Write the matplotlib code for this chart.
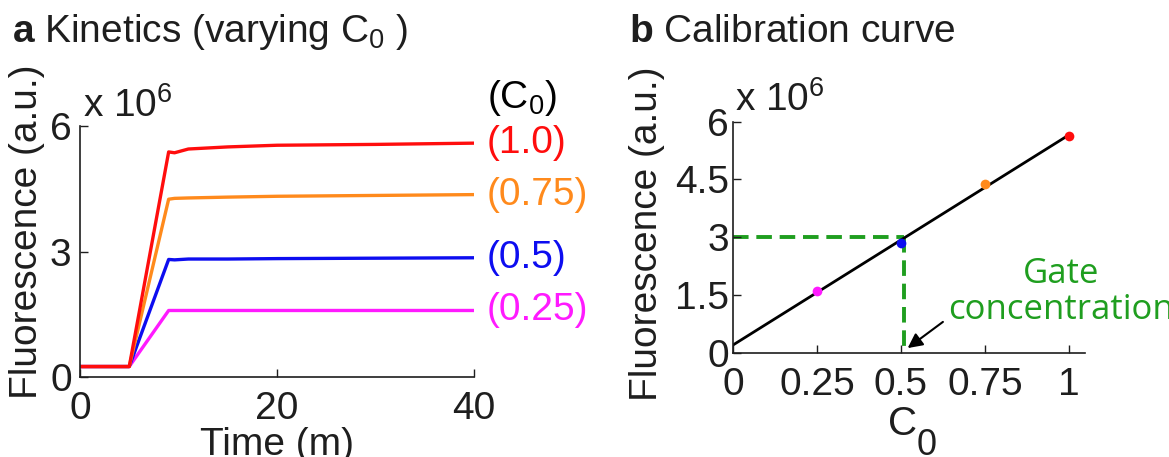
import numpy as np
import matplotlib
matplotlib.use("Agg")
import matplotlib.pyplot as plt

plt.rcParams["font.family"] = ["Liberation Sans", "DejaVu Sans"]
plt.rcParams["mathtext.fontset"] = "custom"
plt.rcParams["mathtext.rm"] = "Liberation Sans"
plt.rcParams["mathtext.it"] = "Liberation Sans"
plt.rcParams["mathtext.bf"] = "Liberation Sans:bold"
plt.rcParams["mathtext.default"] = "regular"

# kinetics, fluorescence in units of 1e6
time_m = [0, 5, 9, 9.6, 11, 15, 20, 30, 40]
kin_100 = [0.25, 0.25, 5.38, 5.36, 5.45, 5.50, 5.54, 5.56, 5.59]
kin_075 = [0.25, 0.25, 4.25, 4.27, 4.28, 4.30, 4.32, 4.34, 4.36]
kin_050 = [0.25, 0.25, 2.81, 2.80, 2.82, 2.82, 2.83, 2.84, 2.85]
kin_025 = [0.25, 0.25, 1.59, 1.59, 1.59, 1.59, 1.59, 1.59, 1.59]
kin_labels = ["(1.0)", "(0.75)", "(0.5)", "(0.25)"]

# calibration
calib_c0 = [0.25, 0.5, 0.75, 1.0]
calib_fl = [1.59, 2.84, 4.39, 5.62]
gate_c0 = 0.51
gate_fl = 3.0

colors = ["#ff0d0d", "#ff8a1c", "#0d0df0", "#ff1aff"]
green = "#1f9e1f"
ink = "#1e1e1e"

W, H = 1169, 457
fig = plt.figure(figsize=(W / 100, H / 100), dpi=100)


def ftext(x, y, s, **kw):
    kw.setdefault("color", ink)
    fig.text(x / W, 1 - y / H, s, **kw)


def style(ax):
    for side in ["top", "right"]:
        ax.spines[side].set_visible(False)
    for side in ["left", "bottom"]:
        ax.spines[side].set_linewidth(1.2)
        ax.spines[side].set_color(ink)
    ax.tick_params(direction="in", length=6, width=1, labelsize=28,
                   colors=ink)


# ---- panel a
ax1 = fig.add_axes([80 / W, (H - 377) / H, 394 / W, 251 / H])
style(ax1)
series = [kin_100, kin_075, kin_050, kin_025]
for vals, col in reversed(list(zip(series, colors))):
    ax1.plot(time_m, vals, color=col, lw=2.4, solid_joinstyle="round")
ax1.set_xlim(0, 40)
ax1.set_ylim(0, 6)
ax1.set_xticks([0, 20, 40])
ax1.set_yticks([0, 3, 6])
ax1.set_yticklabels(["0", "3", "6"])
ax1.tick_params(axis="x", pad=10)
ax1.tick_params(axis="y", pad=6)
for vals, lab, col in zip(series, kin_labels, colors):
    ax1.text(41.3, vals[-1], lab, color=col, fontsize=28, va="center",
             ha="left", clip_on=False)
ax1.text(41.3, 6.67, "(C$_0$)", color="black", fontsize=28, va="center",
         ha="left", clip_on=False)

ftext(12, 32, r"$\mathbf{a}$ Kinetics (varying C$_0$ )", fontsize=28,
      va="center", ha="left")
ftext(83, 106, r"x 10$^6$", fontsize=28, va="center", ha="left")
ftext(27, 232, "Fluorescence (a.u.)", fontsize=28, rotation=90,
      va="center", ha="center")
ftext(277, 455, "Time (m)", fontsize=28, va="baseline", ha="center")

# ---- panel b
ax2 = fig.add_axes([733 / W, (H - 352.7) / H, 352 / W, 231 / H])
style(ax2)
slope, icpt = np.polyfit(calib_c0, calib_fl, 1)
xs = np.array([0.0, 1.0])
ax2.plot(xs, slope * xs + icpt, color="black", lw=2.0, zorder=2)
ax2.plot([0, gate_c0], [gate_fl, gate_fl], color=green, lw=2.8,
         dashes=(4, 2.0), zorder=1)
ax2.plot([gate_c0, gate_c0], [gate_fl, 0], color=green, lw=2.8,
         dashes=(4, 2.0), zorder=1)
for c, f, col in zip(calib_c0, calib_fl, reversed(colors)):
    ax2.plot(c, f, "o", color=col, ms=7, mec="none", zorder=3, clip_on=False)
ax2.set_xlim(0, 1.048)
ax2.set_ylim(0, 6)
ax2.set_xticks([0, 0.25, 0.5, 0.75, 1])
ax2.set_xticklabels(["0", "0.25", "0.5", "0.75", "1"])
ax2.set_yticks([0, 1.5, 3, 4.5, 6])
ax2.set_yticklabels(["0", "1.5", "3", "4.5", "6"])
ax2.tick_params(axis="x", pad=10)
ax2.tick_params(axis="y", pad=3)
ax2.annotate("", xy=(0.52, 0.12), xytext=(0.625, 0.80),
             arrowprops=dict(arrowstyle="-|>", color="black", lw=1.5,
                             mutation_scale=22, shrinkA=0, shrinkB=0))

ftext(629, 32, r"$\mathbf{b}$ Calibration curve", fontsize=28,
      va="center", ha="left")
ftext(735, 100, r"x 10$^6$", fontsize=28, va="center", ha="left")
ftext(647, 234, "Fluorescence (a.u.)", fontsize=28, rotation=90,
      va="center", ha="center")
ftext(903, 435, "C", fontsize=29, va="baseline", ha="center")
ftext(927, 455, "0", fontsize=26, va="baseline", ha="center")
ftext(1061, 292, "Gate\nconcentration", fontsize=25, family="Open Sans",
      color=green, va="center", ha="center", linespacing=1.05)

fig.savefig("out.png", dpi=100)
